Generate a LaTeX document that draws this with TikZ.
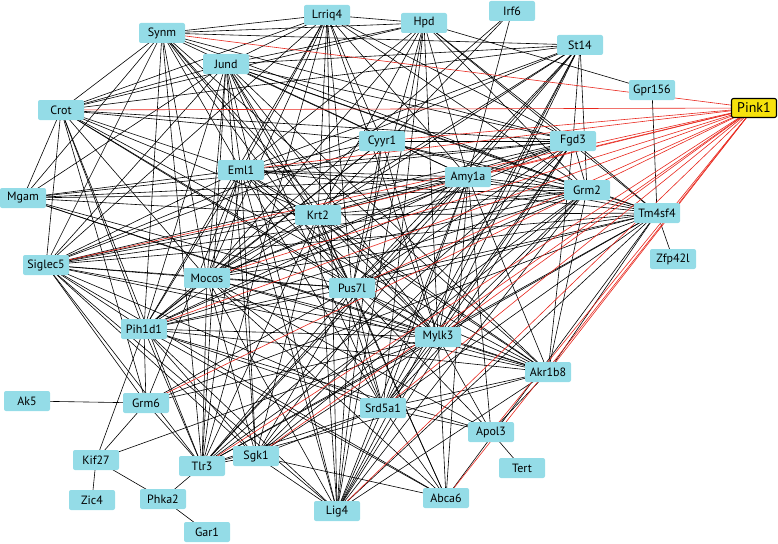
\documentclass[tikz,border=0pt]{standalone}
\usepackage{fontspec}
\setmainfont{PT Sans}
\pgfdeclarelayer{bg}
\pgfsetlayers{bg,main}
\definecolor{gene}{RGB}{148,220,231}
\definecolor{hub}{RGB}{246,226,12}
\definecolor{redline}{RGB}{232,40,30}
\tikzset{
  gene/.style={fill=gene, rounded corners=2pt, minimum width=46pt, minimum height=20pt, inner sep=0pt, font=\fontsize{12}{14}\selectfont},
  hubnode/.style={fill=hub, draw=black, line width=1.1pt, rounded corners=2pt, minimum width=45pt, minimum height=19pt, inner sep=0pt, font=\fontsize{14}{16}\selectfont},
  edge/.style={draw=black, line width=0.6pt},
  redge/.style={draw=redline, line width=0.6pt}
}
\begin{document}
\begin{tikzpicture}[x=1pt,y=-1pt]
\useasboundingbox (0,0) rectangle (778,543);
\node[gene] (Synm) at (162,33) {Synm};
\node[gene] (Lrriq4) at (327,15) {Lrriq4};
\node[gene] (Hpd) at (424,23) {Hpd};
\node[gene] (Irf6) at (512,11) {Irf6};
\node[gene] (St14) at (580,45) {St14};
\node[gene] (Jund) at (226,64) {Jund};
\node[gene] (Gpr156) at (652,90) {Gpr156};
\node[hubnode] (Pink1) at (754,108) {Pink1};
\node[gene] (Crot) at (61,110) {Crot};
\node[gene] (Cyyr1) at (382,141) {Cyyr1};
\node[gene] (Fgd3) at (573,141) {Fgd3};
\node[gene] (Eml1) at (241,170) {Eml1};
\node[gene] (Amy1a) at (468,177) {Amy1a};
\node[gene] (Grm2) at (587,190) {Grm2};
\node[gene] (Mgam) at (23,198) {Mgam};
\node[gene] (Krt2) at (318,215) {Krt2};
\node[gene] (Tm4sf4) at (657,213) {Tm4sf4};
\node[gene] (Siglec5) at (46,265) {Siglec5};
\node[gene] (Mocos) at (207,278) {Mocos};
\node[gene] (Pus7l) at (352,288) {Pus7l};
\node[gene] (Zfp42l) at (673,259) {Zfp42l};
\node[gene] (Pih1d1) at (144,329) {Pih1d1};
\node[gene] (Mylk3) at (438,337) {Mylk3};
\node[gene] (Akr1b8) at (548,372) {Akr1b8};
\node[gene] (Ak5) at (27,401) {Ak5};
\node[gene] (Grm6) at (146,403) {Grm6};
\node[gene] (Srd5a1) at (383,408) {Srd5a1};
\node[gene] (Apol3) at (491,432) {Apol3};
\node[gene] (Kif27) at (96,460) {Kif27};
\node[gene] (Sgk1) at (256,456) {Sgk1};
\node[gene] (Tlr3) at (202,466) {Tlr3};
\node[gene] (Tert) at (522,468) {Tert};
\node[gene] (Zic4) at (92,500) {Zic4};
\node[gene] (Phka2) at (163,499) {Phka2};
\node[gene] (Abca6) at (446,498) {Abca6};
\node[gene] (Lig4) at (337,511) {Lig4};
\node[gene] (Gar1) at (207,532) {Gar1};
\begin{pgfonlayer}{bg}
\foreach \b in {Lrriq4,Crot,Mgam,Siglec5,Pih1d1,Mocos,Eml1,Krt2,Pus7l,Mylk3,Tlr3,Fgd3,Grm2,St14,Amy1a,Akr1b8,Hpd}
  \draw[edge] (Synm.center) -- (\b.center);
\foreach \b in {Crot,Mgam,Siglec5,Pih1d1,Mocos,Eml1,Krt2,Pus7l,Mylk3,Tlr3,Lig4,Srd5a1,Sgk1,Hpd,St14,Fgd3,Amy1a,Grm2,Tm4sf4,Akr1b8,Lrriq4}
  \draw[edge] (Jund.center) -- (\b.center);
\foreach \b in {Hpd,Crot,Siglec5,Pih1d1,Mocos,Eml1,Krt2,Pus7l,Mylk3,Amy1a,Fgd3,Grm2,Tlr3,Lig4,Cyyr1}
  \draw[edge] (Lrriq4.center) -- (\b.center);
\foreach \b in {Crot,Eml1,Krt2,Mocos,Pus7l,Amy1a,Grm2,Fgd3,Mylk3,Tm4sf4,Lig4,Srd5a1,Gpr156}
  \draw[edge] (Hpd.center) -- (\b.center);
\foreach \b in {Amy1a,Krt2,Pih1d1}
  \draw[edge] (Irf6.center) -- (\b.center);
\foreach \b in {Crot,Eml1,Krt2,Siglec5,Mocos,Pus7l,Amy1a,Fgd3,Grm2,Mylk3,Lig4,Tlr3,Srd5a1}
  \draw[edge] (St14.center) -- (\b.center);
\foreach \b in {Mgam,Siglec5,Pih1d1,Mocos,Eml1,Krt2,Pus7l,Mylk3,Fgd3,Tlr3,Grm6,Cyyr1,Akr1b8}
  \draw[edge] (Crot.center) -- (\b.center);
\foreach \b in {Eml1,Siglec5,Mocos,Pus7l,Mylk3,Lig4,Fgd3,Grm2,Tm4sf4,Pih1d1}
  \draw[edge] (Cyyr1.center) -- (\b.center);
\foreach \b in {Eml1,Mgam,Siglec5,Mocos,Pih1d1,Krt2,Pus7l,Amy1a,Mylk3,Tlr3,Lig4,Srd5a1,Sgk1,Grm2,Tm4sf4,Akr1b8}
  \draw[edge] (Fgd3.center) -- (\b.center);
\foreach \b in {Mgam,Siglec5,Pih1d1,Mocos,Krt2,Pus7l,Mylk3,Amy1a,Grm2,Tm4sf4,Tlr3,Lig4,Srd5a1,Sgk1,Grm6,Akr1b8}
  \draw[edge] (Eml1.center) -- (\b.center);
\foreach \b in {Mgam,Siglec5,Pih1d1,Mocos,Krt2,Pus7l,Mylk3,Grm2,Tm4sf4,Tlr3,Lig4,Srd5a1,Abca6,Akr1b8,Sgk1,Apol3}
  \draw[edge] (Amy1a.center) -- (\b.center);
\foreach \b in {Mgam,Siglec5,Mocos,Pih1d1,Krt2,Pus7l,Mylk3,Tm4sf4,Tlr3,Lig4,Srd5a1,Akr1b8,Sgk1}
  \draw[edge] (Grm2.center) -- (\b.center);
\foreach \b in {Gpr156,Zfp42l,Siglec5,Mocos,Pih1d1,Krt2,Pus7l,Mylk3,Tlr3,Lig4,Srd5a1,Akr1b8,Abca6,Grm6}
  \draw[edge] (Tm4sf4.center) -- (\b.center);
\foreach \b in {Krt2,Pus7l,Mylk3,Akr1b8}
  \draw[edge] (Mgam.center) -- (\b.center);
\foreach \b in {Krt2,Pus7l,Mylk3,Mocos,Pih1d1,Tlr3,Lig4,Srd5a1,Sgk1,Abca6,Akr1b8,Grm6}
  \draw[edge] (Siglec5.center) -- (\b.center);
\foreach \b in {Mocos,Pus7l,Mylk3,Pih1d1,Tlr3,Lig4,Srd5a1,Sgk1,Akr1b8,Abca6}
  \draw[edge] (Krt2.center) -- (\b.center);
\foreach \b in {Pus7l,Mylk3,Pih1d1,Tlr3,Lig4,Srd5a1,Sgk1,Abca6,Akr1b8,Apol3}
  \draw[edge] (Mocos.center) -- (\b.center);
\foreach \b in {Mylk3,Pih1d1,Tlr3,Lig4,Srd5a1,Sgk1,Akr1b8,Apol3,Grm6,Abca6}
  \draw[edge] (Pus7l.center) -- (\b.center);
\foreach \b in {Mylk3,Tlr3,Lig4,Srd5a1,Sgk1,Abca6,Akr1b8,Apol3,Grm6,Kif27}
  \draw[edge] (Pih1d1.center) -- (\b.center);
\foreach \b in {Tlr3,Lig4,Srd5a1,Sgk1,Akr1b8,Abca6,Apol3,Grm6,Kif27}
  \draw[edge] (Mylk3.center) -- (\b.center);
\foreach \b in {Srd5a1,Apol3,Tlr3,Lig4}
  \draw[edge] (Akr1b8.center) -- (\b.center);
\foreach \b in {Apol3,Abca6,Lig4,Sgk1,Tlr3}
  \draw[edge] (Srd5a1.center) -- (\b.center);
\draw[edge] (Apol3.center) -- (Tert.center);
\foreach \b in {Ak5,Kif27,Tlr3}
  \draw[edge] (Grm6.center) -- (\b.center);
\foreach \b in {Zic4,Phka2}
  \draw[edge] (Kif27.center) -- (\b.center);
\foreach \b in {Tlr3,Gar1}
  \draw[edge] (Phka2.center) -- (\b.center);
\foreach \b in {Lig4,Abca6,Tlr3}
  \draw[edge] (Sgk1.center) -- (\b.center);
\foreach \b in {Synm,Crot,Eml1,Siglec5,Mocos,Pih1d1,Krt2,Amy1a,Pus7l,Mylk3,Tlr3,Sgk1,Srd5a1,Lig4,Abca6,Apol3,Akr1b8,Cyyr1,Grm6}
  \draw[redge] (Pink1.center) -- (\b.center);
\end{pgfonlayer}
\end{tikzpicture}
\end{document}
